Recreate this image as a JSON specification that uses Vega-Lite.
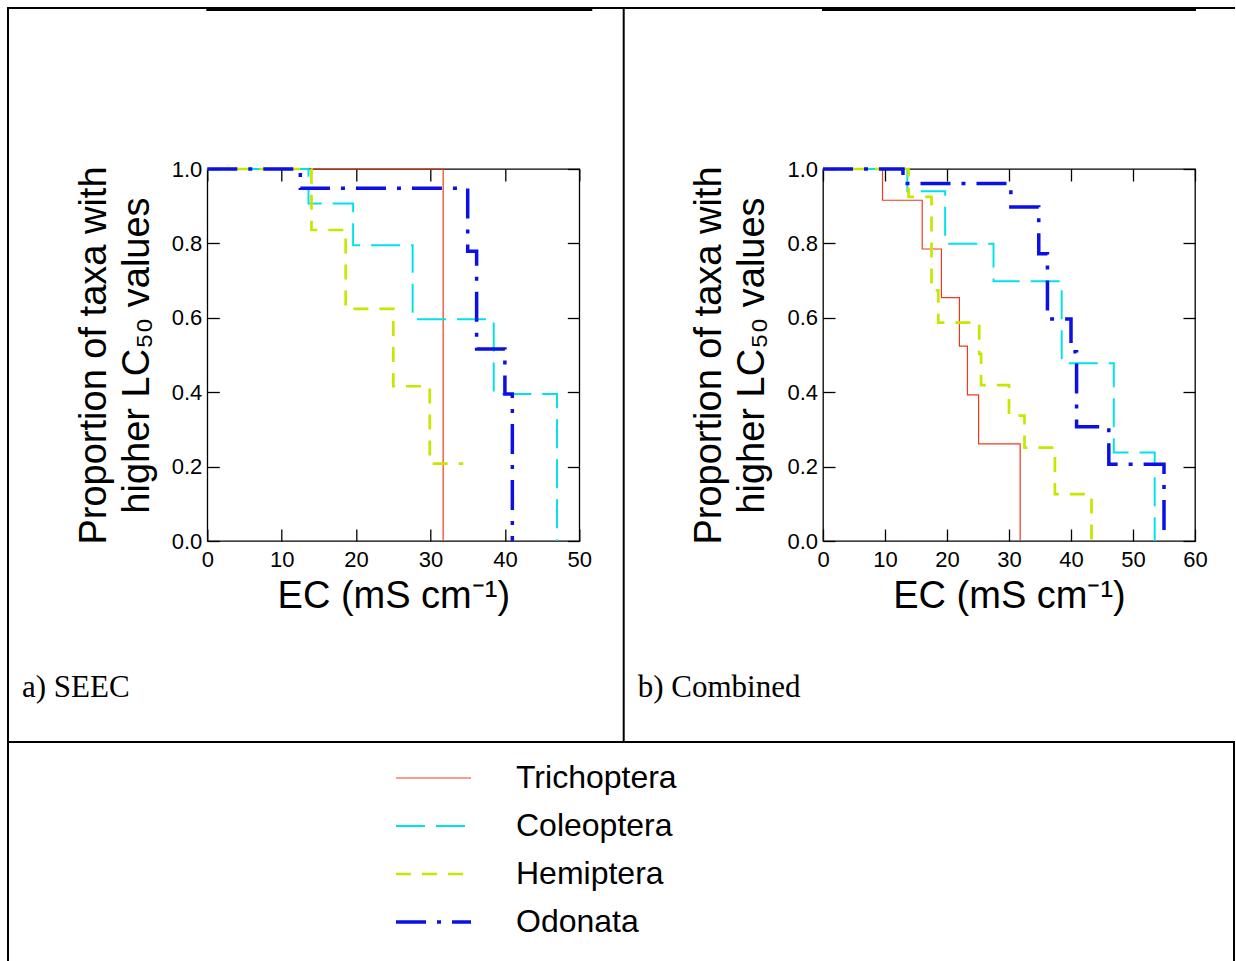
{
  "$schema": "https://vega.github.io/schema/vega-lite/v6.json",
  "background": "white",
  "padding": {"left": 7, "top": 7, "right": 0, "bottom": 0},
  "data": {"values": [
    {"panel": "a", "taxon": "Trichoptera", "ec": 0, "prop": 1},
    {"panel": "a", "taxon": "Trichoptera", "ec": 31.7, "prop": 0},
    {"panel": "a", "taxon": "Coleoptera", "ec": 0, "prop": 1},
    {"panel": "a", "taxon": "Coleoptera", "ec": 13.6, "prop": 0.907},
    {"panel": "a", "taxon": "Coleoptera", "ec": 19.6, "prop": 0.795},
    {"panel": "a", "taxon": "Coleoptera", "ec": 27.6, "prop": 0.596},
    {"panel": "a", "taxon": "Coleoptera", "ec": 38.5, "prop": 0.395},
    {"panel": "a", "taxon": "Coleoptera", "ec": 47.0, "prop": 0},
    {"panel": "a", "taxon": "Hemiptera", "ec": 0, "prop": 1},
    {"panel": "a", "taxon": "Hemiptera", "ec": 14.0, "prop": 0.836},
    {"panel": "a", "taxon": "Hemiptera", "ec": 18.6, "prop": 0.624},
    {"panel": "a", "taxon": "Hemiptera", "ec": 25.0, "prop": 0.416},
    {"panel": "a", "taxon": "Hemiptera", "ec": 29.9, "prop": 0.208},
    {"panel": "a", "taxon": "Hemiptera", "ec": 34.4, "prop": 0.208},
    {"panel": "a", "taxon": "Odonata", "ec": 0, "prop": 1},
    {"panel": "a", "taxon": "Odonata", "ec": 12.5, "prop": 0.948},
    {"panel": "a", "taxon": "Odonata", "ec": 35.0, "prop": 0.779},
    {"panel": "a", "taxon": "Odonata", "ec": 36.2, "prop": 0.516},
    {"panel": "a", "taxon": "Odonata", "ec": 40.0, "prop": 0.395},
    {"panel": "a", "taxon": "Odonata", "ec": 41.0, "prop": 0},
    {"panel": "b", "taxon": "Trichoptera", "ec": 0, "prop": 1},
    {"panel": "b", "taxon": "Trichoptera", "ec": 9.6, "prop": 0.916},
    {"panel": "b", "taxon": "Trichoptera", "ec": 16.0, "prop": 0.785},
    {"panel": "b", "taxon": "Trichoptera", "ec": 19.1, "prop": 0.654},
    {"panel": "b", "taxon": "Trichoptera", "ec": 22.0, "prop": 0.524},
    {"panel": "b", "taxon": "Trichoptera", "ec": 23.3, "prop": 0.393},
    {"panel": "b", "taxon": "Trichoptera", "ec": 25.1, "prop": 0.261},
    {"panel": "b", "taxon": "Trichoptera", "ec": 31.8, "prop": 0},
    {"panel": "b", "taxon": "Coleoptera", "ec": 0, "prop": 1},
    {"panel": "b", "taxon": "Coleoptera", "ec": 13.6, "prop": 0.94},
    {"panel": "b", "taxon": "Coleoptera", "ec": 19.7, "prop": 0.799},
    {"panel": "b", "taxon": "Coleoptera", "ec": 27.5, "prop": 0.698},
    {"panel": "b", "taxon": "Coleoptera", "ec": 38.5, "prop": 0.478},
    {"panel": "b", "taxon": "Coleoptera", "ec": 46.9, "prop": 0.238},
    {"panel": "b", "taxon": "Coleoptera", "ec": 53.5, "prop": 0},
    {"panel": "b", "taxon": "Hemiptera", "ec": 0, "prop": 1},
    {"panel": "b", "taxon": "Hemiptera", "ec": 13.8, "prop": 0.925},
    {"panel": "b", "taxon": "Hemiptera", "ec": 17.5, "prop": 0.674},
    {"panel": "b", "taxon": "Hemiptera", "ec": 18.6, "prop": 0.587},
    {"panel": "b", "taxon": "Hemiptera", "ec": 25.2, "prop": 0.503},
    {"panel": "b", "taxon": "Hemiptera", "ec": 25.5, "prop": 0.419},
    {"panel": "b", "taxon": "Hemiptera", "ec": 30.0, "prop": 0.337},
    {"panel": "b", "taxon": "Hemiptera", "ec": 32.5, "prop": 0.251},
    {"panel": "b", "taxon": "Hemiptera", "ec": 37.4, "prop": 0.126},
    {"panel": "b", "taxon": "Hemiptera", "ec": 43.3, "prop": 0},
    {"panel": "b", "taxon": "Odonata", "ec": 0, "prop": 1},
    {"panel": "b", "taxon": "Odonata", "ec": 12.9, "prop": 0.961},
    {"panel": "b", "taxon": "Odonata", "ec": 30.3, "prop": 0.898},
    {"panel": "b", "taxon": "Odonata", "ec": 34.8, "prop": 0.772},
    {"panel": "b", "taxon": "Odonata", "ec": 36.2, "prop": 0.597},
    {"panel": "b", "taxon": "Odonata", "ec": 40.0, "prop": 0.509},
    {"panel": "b", "taxon": "Odonata", "ec": 40.9, "prop": 0.307},
    {"panel": "b", "taxon": "Odonata", "ec": 46.1, "prop": 0.206},
    {"panel": "b", "taxon": "Odonata", "ec": 55.0, "prop": 0}
  ]},
  "config": {
    "view": {"stroke": "black", "strokeWidth": 1.3},
    "axis": {"grid": false, "domain": false, "labelFont": "Liberation Sans", "labelFontSize": 22, "labelColor": "black", "titleFont": "Liberation Sans", "titleFontSize": 38, "titleFontWeight": "normal", "titleColor": "black", "tickColor": "black", "tickWidth": 1.3, "tickSize": -12, "labelFlush": false, "labelOverlap": false},
    "legend": {"padding": 0, "labelFont": "Liberation Sans", "labelFontSize": 32, "labelColor": "black", "labelLimit": 400, "symbolType": "stroke", "symbolSize": 5625, "labelOffset": 43, "clipHeight": 46, "rowPadding": 2},
    "title": {"font": "Liberation Serif", "fontSize": 31, "fontWeight": "normal", "color": "black"}
  },
  "spacing": -3,
  "vconcat": [
    {
      "width": 1226, "height": 0.01,
      "data": {"values": [{"frame": "top"}]},
      "view": {"stroke": null},
      "mark": {"type": "rect", "fill": "white", "stroke": "black", "strokeWidth": 2},
      "encoding": {}
    },
    {
      "spacing": 29.7,
      "hconcat": [
        {
          "spacing": 11.3,
          "hconcat": [
            {
              "width": 0.01, "height": 731,
              "data": {"values": [{"frame": "left"}]},
              "view": {"stroke": null},
              "mark": {"type": "rect", "fill": "white", "stroke": "black", "strokeWidth": 2},
              "encoding": {}
            },
            {
              "spacing": 145,
              "vconcat": [
                {
                  "width": 384, "height": 0.01,
                  "data": {"values": [{"frame": "top a"}]},
                  "view": {"stroke": null},
                  "mark": {"type": "rect", "fill": "white", "stroke": "black", "strokeWidth": 2},
                  "encoding": {}
                },
                {
                  "width": 372, "height": 372,
                  "title": {"text": "a) SEEC", "orient": "bottom", "anchor": "start", "frame": "group", "dx": -185.3, "offset": 58},
                  "transform": [{"filter": "datum.panel === 'a'"}],
                  "resolve": {"axis": {"x": "independent", "y": "independent"}},
                  "layer": [
                    {
                      "transform": [{"filter": {"field": "taxon", "oneOf": ["Trichoptera", "Coleoptera"]}}],
                      "mark": {"type": "line", "interpolate": "step-after"},
                      "encoding": {
                        "x": {"field": "ec", "type": "quantitative", "scale": {"domain": [0, 50], "nice": false, "zero": false}, "axis": {"values": [0, 10, 20, 30, 40, 50], "format": "d", "labelPadding": 20, "title": "EC (mS cm⁻¹)", "titlePadding": 7}},
                        "y": {"field": "prop", "type": "quantitative", "scale": {"domain": [0, 1], "nice": false}, "axis": {"values": [0, 0.2, 0.4, 0.6, 0.8, 1], "format": ".1f", "labelPadding": 17.5, "title": ["Proportion of taxa with", "higher LC₅₀ values"], "titleLineHeight": 43, "titlePadding": 15}},
                        "color": {"field": "taxon", "type": "nominal", "scale": {"domain": ["Trichoptera", "Coleoptera", "Hemiptera", "Odonata"], "range": ["#ee3a1c", "#00e2ea", "#c8e600", "#0a10e6"]}, "legend": {"title": null, "orient": "none", "legendX": 386, "legendY": 747}},
                        "strokeDash": {"field": "taxon", "type": "nominal", "scale": {"domain": ["Trichoptera", "Coleoptera", "Hemiptera", "Odonata"], "range": [[1, 0], [29, 11], [15, 11], [30, 11, 4, 11]]}, "legend": {"title": null, "orient": "none", "legendX": 386, "legendY": 747}},
                        "strokeWidth": {"field": "taxon", "type": "nominal", "scale": {"domain": ["Trichoptera", "Coleoptera", "Hemiptera", "Odonata"], "range": [1.2, 3.5, 3.5, 3.5]}, "legend": {"title": null, "orient": "none", "legendX": 386, "legendY": 747}}
                      }
                    },
                    {
                      "transform": [{"filter": {"field": "taxon", "oneOf": ["Hemiptera", "Odonata"]}}],
                      "mark": {"type": "line", "interpolate": "step-after"},
                      "encoding": {
                        "x": {"field": "ec", "type": "quantitative", "scale": {"domain": [0, 50], "nice": false, "zero": false}, "axis": {"orient": "top", "values": [0, 10, 20, 30, 40, 50], "labels": false, "title": null}},
                        "y": {"field": "prop", "type": "quantitative", "scale": {"domain": [0, 1], "nice": false}, "axis": {"orient": "right", "values": [0, 0.2, 0.4, 0.6, 0.8, 1], "labels": false, "title": null}},
                        "color": {"field": "taxon", "type": "nominal", "legend": {"title": null, "orient": "none", "legendX": 386, "legendY": 747}},
                        "strokeDash": {"field": "taxon", "type": "nominal", "legend": {"title": null, "orient": "none", "legendX": 386, "legendY": 747}},
                        "strokeWidth": {"field": "taxon", "type": "nominal", "legend": {"title": null, "orient": "none", "legendX": 386, "legendY": 747}}
                      }
                    }
                  ]
                }
              ]
            }
          ]
        },
        {
          "spacing": 11.3,
          "hconcat": [
            {
              "width": 0.01, "height": 731,
              "data": {"values": [{"frame": "divider"}]},
              "view": {"stroke": null},
              "mark": {"type": "rect", "fill": "white", "stroke": "black", "strokeWidth": 2},
              "encoding": {}
            },
            {
              "spacing": 30,
              "hconcat": [
                {
                  "spacing": 145,
                  "vconcat": [
                    {
                      "width": 372, "height": 0.01,
                      "data": {"values": [{"frame": "top b"}]},
                      "view": {"stroke": null},
                      "mark": {"type": "rect", "fill": "white", "stroke": "black", "strokeWidth": 2},
                      "encoding": {}
                    },
                    {
                      "width": 372, "height": 372,
                      "title": {"text": "b) Combined", "orient": "bottom", "anchor": "start", "frame": "group", "dx": -185.3, "offset": 58},
                      "transform": [{"filter": "datum.panel === 'b'"}],
                      "resolve": {"axis": {"x": "independent", "y": "independent"}},
                      "layer": [
                        {
                          "transform": [{"filter": {"field": "taxon", "oneOf": ["Trichoptera", "Coleoptera"]}}],
                          "mark": {"type": "line", "interpolate": "step-after"},
                          "encoding": {
                            "x": {"field": "ec", "type": "quantitative", "scale": {"domain": [0, 60], "nice": false, "zero": false}, "axis": {"values": [0, 10, 20, 30, 40, 50, 60], "format": "d", "labelPadding": 20, "title": "EC (mS cm⁻¹)", "titlePadding": 7}},
                            "y": {"field": "prop", "type": "quantitative", "scale": {"domain": [0, 1], "nice": false}, "axis": {"values": [0, 0.2, 0.4, 0.6, 0.8, 1], "format": ".1f", "labelPadding": 17.5, "title": ["Proportion of taxa with", "higher LC₅₀ values"], "titleLineHeight": 43, "titlePadding": 15}},
                            "color": {"field": "taxon", "type": "nominal", "legend": {"title": null, "orient": "none", "legendX": 386, "legendY": 747}},
                            "strokeDash": {"field": "taxon", "type": "nominal", "legend": {"title": null, "orient": "none", "legendX": 386, "legendY": 747}},
                            "strokeWidth": {"field": "taxon", "type": "nominal", "legend": {"title": null, "orient": "none", "legendX": 386, "legendY": 747}}
                          }
                        },
                        {
                          "transform": [{"filter": {"field": "taxon", "oneOf": ["Hemiptera", "Odonata"]}}],
                          "mark": {"type": "line", "interpolate": "step-after"},
                          "encoding": {
                            "x": {"field": "ec", "type": "quantitative", "scale": {"domain": [0, 60], "nice": false, "zero": false}, "axis": {"orient": "top", "values": [0, 10, 20, 30, 40, 50, 60], "labels": false, "title": null}},
                            "y": {"field": "prop", "type": "quantitative", "scale": {"domain": [0, 1], "nice": false}, "axis": {"orient": "right", "values": [0, 0.2, 0.4, 0.6, 0.8, 1], "labels": false, "title": null}},
                            "color": {"field": "taxon", "type": "nominal", "legend": {"title": null, "orient": "none", "legendX": 386, "legendY": 747}},
                            "strokeDash": {"field": "taxon", "type": "nominal", "legend": {"title": null, "orient": "none", "legendX": 386, "legendY": 747}},
                            "strokeWidth": {"field": "taxon", "type": "nominal", "legend": {"title": null, "orient": "none", "legendX": 386, "legendY": 747}}
                          }
                        }
                      ]
                    }
                  ]
                },
                {
                  "width": 0.01, "height": 731,
                  "data": {"values": [{"frame": "right"}]},
                  "view": {"stroke": null},
                  "mark": {"type": "rect", "fill": "white", "stroke": "black", "strokeWidth": 2},
                  "encoding": {}
                }
              ]
            }
          ]
        }
      ]
    },
    {
      "width": 1226, "height": 230,
      "data": {"values": [{"frame": "legend box"}]},
      "view": {"stroke": null},
      "mark": {"type": "rect", "fill": "white", "stroke": "black", "strokeWidth": 2},
      "encoding": {}
    }
  ]
}
